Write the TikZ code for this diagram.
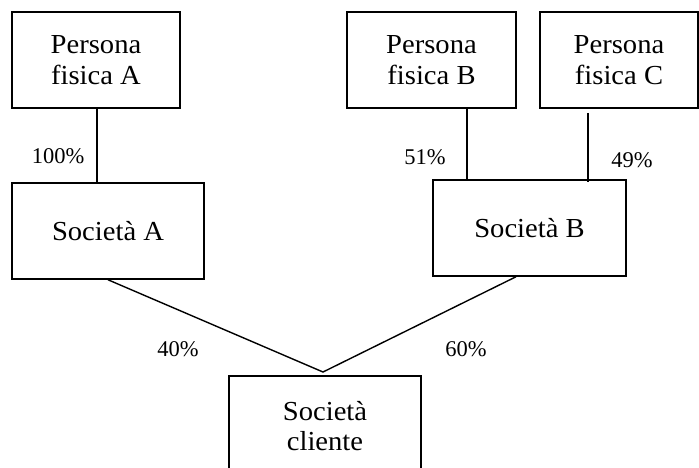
\documentclass[tikz,border=0pt]{standalone}
\usepackage{fontspec}
\setmainfont{Liberation Serif}
\newfontfamily\boxfont{Liberation Serif}[FakeStretch=1.04]
\begin{document}
\begin{tikzpicture}[x=1pt,y=-1pt,
  ent/.style={draw,line width=1.5pt,inner sep=0pt,align=center,font=\boxfont\fontsize{27.5}{30.5}\selectfont},
  pct/.style={inner sep=0pt,font=\fontsize{22.5}{26}\selectfont},
  conn/.style={line width=1.4pt}]
\useasboundingbox (0,0) rectangle (699,467);
\node[ent,minimum width=168pt,minimum height=96pt] (PFA) at (96,60) {Persona\\fisica A};
\node[ent,minimum width=169pt,minimum height=96pt] (PFB) at (431.5,60) {Persona\\fisica B};
\node[ent,minimum width=158pt,minimum height=96pt] (PFC) at (619,60) {Persona\\fisica C};
\node[ent,minimum width=192pt,minimum height=96pt] (SA) at (108,231) {Società A};
\node[ent,minimum width=193pt,minimum height=96pt] (SB) at (529.5,228) {Società B};
\node[ent,minimum width=192pt,minimum height=100pt] (SC) at (325,426) {Società\\cliente};
\coordinate (xa) at (97,0);
\coordinate (xb) at (467,0);
\coordinate (xc) at (588,0);
\coordinate (xs) at (516,0);
\coordinate (apex) at (323,372);
\draw[conn] (PFA.south -| xa) -- (SA.north -| xa);
\draw[conn] (PFB.south -| xb) -- (SB.north -| xb);
\draw[conn] ([yshift=-4pt]PFC.south -| xc) -- ([yshift=-3pt]SB.north -| xc);
\draw[conn] (SA.south) -- (apex) -- (SB.south -| xs);
\node[pct] (l100) at (58,156.5) {100\%};
\node[pct] (l51) at (425,157) {51\%};
\node[pct] (l49) at (632,160) {49\%};
\node[pct] (l40) at (178,349) {40\%};
\node[pct] (l60) at (466,349) {60\%};
\end{tikzpicture}
\end{document}
